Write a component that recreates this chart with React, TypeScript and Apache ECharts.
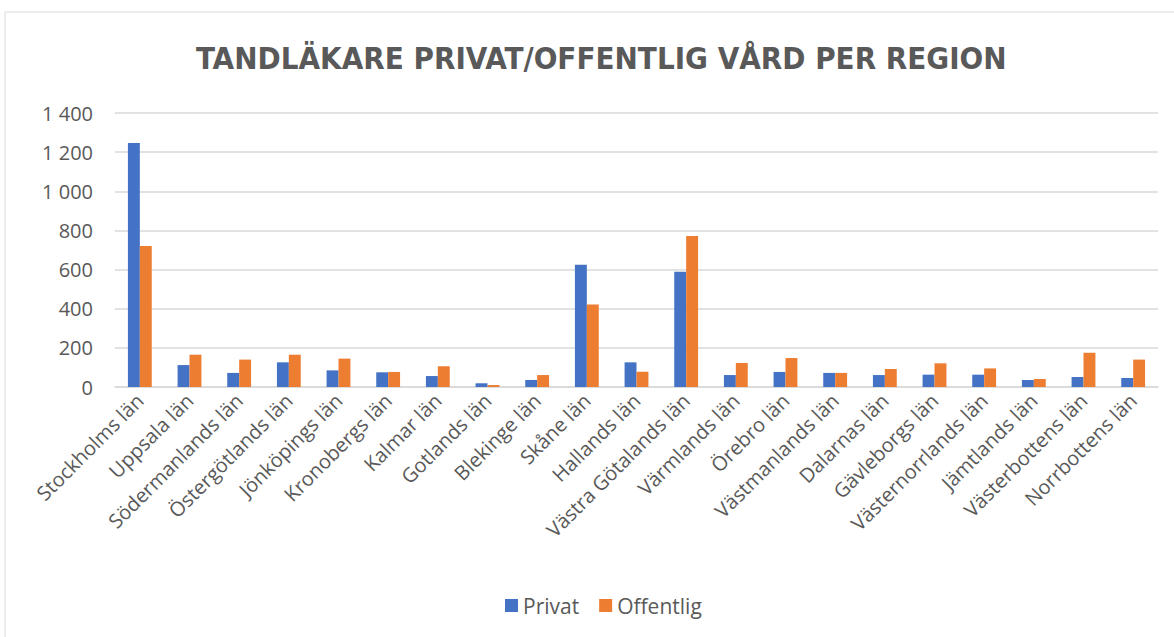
import React, { useEffect, useRef } from "react";
import * as echarts from "echarts";

const categories = [
  "Stockholms län", "Uppsala län", "Södermanlands län", "Östergötlands län",
  "Jönköpings län", "Kronobergs län", "Kalmar län", "Gotlands län",
  "Blekinge län", "Skåne län", "Hallands län", "Västra Götalands län",
  "Värmlands län", "Örebro län", "Västmanlands län", "Dalarnas län",
  "Gävleborgs län", "Västernorrlands län", "Jämtlands län",
  "Västerbottens län", "Norrbottens län",
];
const privat = [1247, 112, 72, 126, 85, 75, 56, 19, 36, 625, 126, 589, 61, 77, 72, 61, 63, 63, 36, 51, 46];
const offentlig = [720, 165, 140, 165, 145, 77, 106, 10, 61, 422, 78, 771, 123, 148, 72, 92, 121, 95, 41, 175, 140];
const seriesNames = ["Privat", "Offentlig"];
const title = "TANDLÄKARE PRIVAT/OFFENTLIG VÅRD PER REGION";

const fmt = (v: number) => String(v).replace(/\B(?=(\d{3})+(?!\d))/g, " ");

export default function App() {
  const ref = useRef<HTMLDivElement>(null);
  useEffect(() => {
    const chart = echarts.init(ref.current!, null, { renderer: "svg" });
    const font = "'Open Sans', sans-serif";
    chart.setOption({
      animation: false,
      backgroundColor: "#fff",
      title: {
        text: title,
        left: 191,
        top: 37,
        textStyle: {
          fontFamily: "'Liberation Sans Narrow', 'DejaVu Sans Condensed', sans-serif",
          fontWeight: "bold",
          fontSize: 31,
          color: "#595959",
        },
      },
      graphic: [
        {
          type: "rect",
          shape: { x: 5, y: 12, width: 1300, height: 800 },
          style: { fill: "none", stroke: "#D9D9D9", lineWidth: 1 },
          silent: true,
        },
      ],
      legend: {
        data: seriesNames,
        bottom: 16,
        left: 500,
        icon: "rect",
        itemWidth: 13,
        itemHeight: 13,
        itemGap: 20,
        textStyle: { fontFamily: font, fontSize: 21, color: "#595959" },
      },
      grid: { left: 115, right: 16, top: 113, bottom: 250, containLabel: false },
      xAxis: {
        type: "category",
        data: categories,
        axisTick: { show: false },
        axisLine: { lineStyle: { color: "#D9D9D9", width: 1.5 } },
        axisLabel: {
          interval: 0,
          rotate: 45,
          margin: 10,
          fontFamily: font,
          fontSize: 20,
          color: "#595959",
        },
      },
      yAxis: {
        type: "value",
        min: 0,
        max: 1400,
        interval: 200,
        axisLine: { show: false },
        axisTick: { show: false },
        splitLine: { lineStyle: { color: "#D9D9D9", width: 1.5 } },
        axisLabel: {
          formatter: (v: number) => fmt(v),
          margin: 22,
          fontFamily: font,
          fontSize: 20,
          color: "#595959",
        },
      },
      series: [
        {
          name: seriesNames[0],
          type: "bar",
          data: privat,
          itemStyle: { color: "#4472C4" },
          barGap: "0%",
          barCategoryGap: "52%",
        },
        {
          name: seriesNames[1],
          type: "bar",
          data: offentlig,
          itemStyle: { color: "#ED7D31" },
          barGap: "0%",
          barCategoryGap: "52%",
        },
      ],
    });
    return () => chart.dispose();
  }, []);
  return <div ref={ref} style={{ width: 1174, height: 637, position: "absolute", left: 0, top: 0 }} />;
}
